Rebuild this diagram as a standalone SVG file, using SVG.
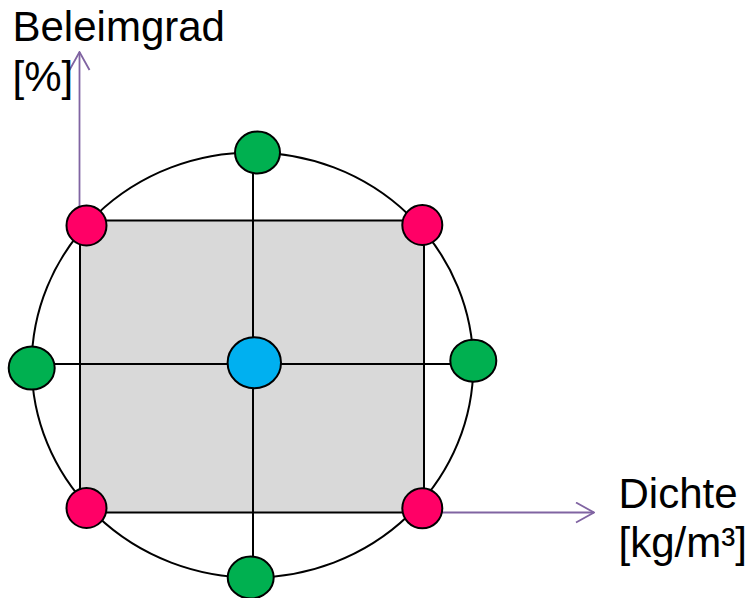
<svg xmlns="http://www.w3.org/2000/svg" width="750" height="598" viewBox="0 0 750 598">
<style>
.t{font-family:"Liberation Sans",Arial,sans-serif;font-size:42px;fill:#000}
.ax{stroke:#8064A2;stroke-width:1.8;fill:none}
.ln{stroke:#000;stroke-width:2;fill:none}
.pk{fill:#FF0066;stroke:#000;stroke-width:2}
.gr{fill:#00B050;stroke:#000;stroke-width:2}
.bl{fill:#00B0F0;stroke:#000;stroke-width:2}
</style>
<defs>
<marker id="arr" viewBox="0 0 20 22" refX="19" refY="11" markerWidth="20" markerHeight="22" markerUnits="userSpaceOnUse" orient="auto">
<path d="M1,1 L19,11 L1,21" fill="none" stroke="#8064A2" stroke-width="1.8"/>
</marker>
</defs>
<rect width="750" height="598" fill="#fff"/>
<g id="outer-circle"><ellipse cx="252.5" cy="365" rx="220.8" ry="212.5" class="ln"/></g>
<g id="square"><rect x="80" y="220.5" width="344" height="292" fill="#D9D9D9" stroke="#000" stroke-width="2"/></g>
<g id="connectors">
<line x1="79.5" y1="226" x2="79.5" y2="52" class="ax" marker-end="url(#arr)"/>
<line x1="422" y1="512.5" x2="594" y2="512.5" class="ax" marker-end="url(#arr)"/>
<line x1="253" y1="153" x2="253" y2="577" class="ln"/>
<line x1="31" y1="364" x2="473" y2="364" class="ln"/>
</g>
<g id="node-top"><ellipse cx="257.5" cy="152.5" rx="22.5" ry="21" class="gr"/></g>
<g id="node-bottom"><ellipse cx="250.7" cy="577.5" rx="23" ry="21" class="gr"/></g>
<g id="node-left"><ellipse cx="31.7" cy="368" rx="23" ry="21.5" class="gr"/></g>
<g id="node-right"><ellipse cx="473.3" cy="360.7" rx="23" ry="21" class="gr"/></g>
<g id="node-tl"><circle cx="86.5" cy="225.5" r="20" class="pk"/></g>
<g id="node-tr"><circle cx="422.3" cy="225" r="20" class="pk"/></g>
<g id="node-bl"><circle cx="86.5" cy="508" r="20" class="pk"/></g>
<g id="node-br"><circle cx="422.3" cy="508.3" r="20" class="pk"/></g>
<g id="node-center"><ellipse cx="254.3" cy="362.8" rx="26.7" ry="25.5" class="bl"/></g>
<g id="label-y"><text class="t" x="12.5" y="41">Beleimgrad</text><text class="t" x="12.5" y="91">[%]</text></g>
<g id="label-x"><text class="t" x="618.5" y="508">Dichte</text><text class="t" x="618.5" y="557">[kg/m³]</text></g>
</svg>
